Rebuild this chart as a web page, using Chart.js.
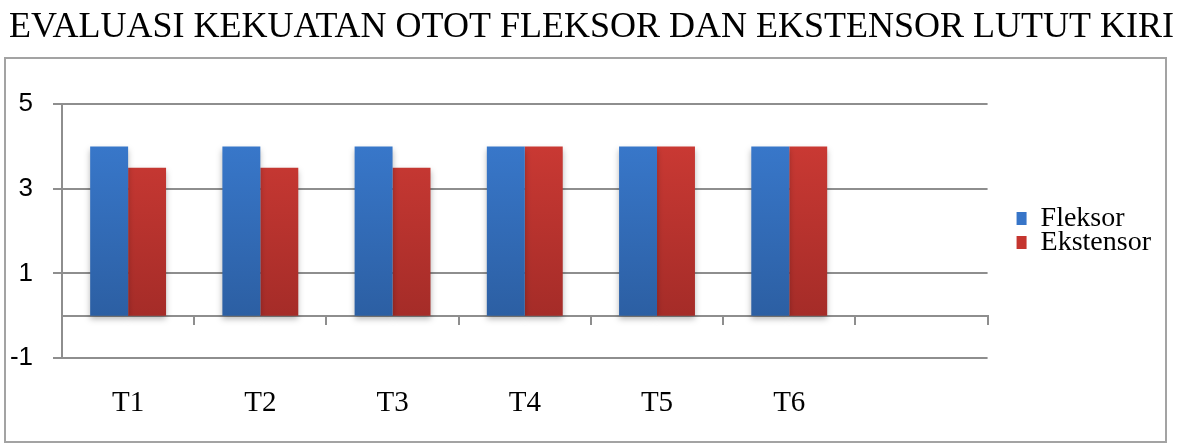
<!DOCTYPE html>
<html>
<head>
<meta charset="utf-8">
<script src="https://cdn.jsdelivr.net/npm/chart.js@4"></script>
<style>
  html, body { margin: 0; padding: 0; background: #ffffff; }
  #wrap { position: relative; width: 1183px; height: 445px; }
</style>
</head>
<body>
<div id="wrap"><canvas id="c" width="1183" height="445"></canvas></div>
<script>
const chartTitle = 'EVALUASI KEKUATAN OTOT FLEKSOR DAN EKSTENSOR LUTUT KIRI';
const categories = ['T1', 'T2', 'T3', 'T4', 'T5', 'T6', ''];
const fleksor = [4, 4, 4, 4, 4, 4, null];
const ekstensor = [3.5, 3.5, 3.5, 4, 4, 4, null];
const seriesNames = ['Fleksor', 'Ekstensor'];
const yTicks = [5, 3, 1, -1];

function grad(top, bottom) {
  return function (c) {
    const area = c.chart.chartArea;
    if (!area) return top;
    const g = c.chart.ctx.createLinearGradient(0, area.top, 0, c.chart.scales.y.getPixelForValue(0));
    g.addColorStop(0, top);
    g.addColorStop(1, bottom);
    return g;
  };
}

const framePlugin = {
  id: 'frame',
  beforeDraw(chart) {
    const ctx = chart.ctx;
    ctx.save();
    ctx.strokeStyle = '#a3a3a3';
    ctx.lineWidth = 2;
    ctx.strokeRect(5, 58, 1161, 384);
    ctx.restore();
  }
};

const shadowPlugin = {
  id: 'barShadow',
  beforeDatasetsDraw(chart) {
    const ctx = chart.ctx;
    ctx.save();
    ctx.shadowColor = 'rgba(0,0,0,0.28)';
    ctx.shadowBlur = 6;
    ctx.shadowOffsetY = 3;
  },
  afterDatasetsDraw(chart) {
    chart.ctx.restore();
  }
};

// keep the legend a fixed gap to the right of the plot area
const legendGap = 25;
const legendDrop = 8;
const legendShiftPlugin = {
  id: 'legendShift',
  afterLayout(chart) {
    const lg = chart.legend;
    if (!lg) return;
    const pad = lg.options.labels.padding;
    const dx = (chart.chartArea.right + legendGap) - (lg.left + pad);
    lg.left += dx;
    lg.right += dx;
    lg.top += legendDrop;
    lg.bottom += legendDrop;
  }
};

const legendFontSize = 28;

new Chart(document.getElementById('c'), {
  type: 'bar',
  data: {
    labels: categories,
    datasets: [
      { label: seriesNames[0], data: fleksor, backgroundColor: grad('#3b7dd3', '#2c5fa3'), borderWidth: 0 },
      { label: seriesNames[1], data: ekstensor, backgroundColor: grad('#d23c36', '#a52c28'), borderWidth: 0 }
    ]
  },
  plugins: [framePlugin, shadowPlugin, legendShiftPlugin],
  options: {
    responsive: false,
    animation: false,
    events: [],
    categoryPercentage: 0.574,
    barPercentage: 1,
    layout: { padding: { left: 0, right: 0, top: 0, bottom: 0 } },
    plugins: {
      title: {
        display: true,
        text: chartTitle,
        color: '#000000',
        font: { family: "'Liberation Serif', 'Times New Roman', serif", size: 36, weight: 'normal', lineHeight: 1.2 },
        padding: { top: 6, bottom: 55 }
      },
      legend: {
        position: 'right',
        align: 'center',
        labels: {
          color: '#000000',
          font: { family: "'Liberation Serif', 'Times New Roman', serif", size: legendFontSize },
          boxWidth: 14,
          boxHeight: 13,
          padding: 24 - legendFontSize,
          generateLabels(chart) {
            const cols = ['#3775c8', '#c5352f'];
            return chart.data.datasets.map((d, i) => ({
              text: d.label, fillStyle: cols[i], strokeStyle: cols[i], lineWidth: 0, datasetIndex: i, hidden: false
            }));
          }
        }
      },
      tooltip: { enabled: false }
    },
    scales: {
      x: {
        type: 'category',
        position: 'bottom',
        offset: true,
        grid: { display: false, drawTicks: false },
        border: { display: false },
        ticks: {
          color: '#000000',
          font: { family: "'Liberation Serif', 'Times New Roman', serif", size: 29 },
          padding: 28,
          maxRotation: 0,
          autoSkip: false
        },
        afterFit(s) { s.height = 87; }
      },
      x0: {
        type: 'category',
        labels: categories,
        position: { y: 0 },
        offset: true,
        grid: { display: true, offset: true, drawOnChartArea: false, drawTicks: true, tickLength: 8, color: '#8e8e8e', lineWidth: 2 },
        border: { display: true, color: '#8e8e8e', width: 2 },
        ticks: { display: false }
      },
      y: {
        type: 'linear',
        position: 'left',
        min: -1,
        max: 5,
        afterBuildTicks(s) { s.ticks = yTicks.map(v => ({ value: v })); },
        grid: { color: '#8e8e8e', lineWidth: 2, drawTicks: true, tickLength: 9 },
        border: { display: true, color: '#8e8e8e', width: 2 },
        ticks: {
          color: '#000000',
          font: { family: "'Liberation Sans', Arial, sans-serif", size: 26 },
          padding: 20
        },
        afterFit(s) { s.width = 62; }
      },
      y2: {
        type: 'linear',
        position: 'right',
        display: true,
        grid: { display: false },
        border: { display: false },
        ticks: { display: false },
        afterFit(s) { s.width = 51; }
      }
    }
  }
});
</script>
</body>
</html>
